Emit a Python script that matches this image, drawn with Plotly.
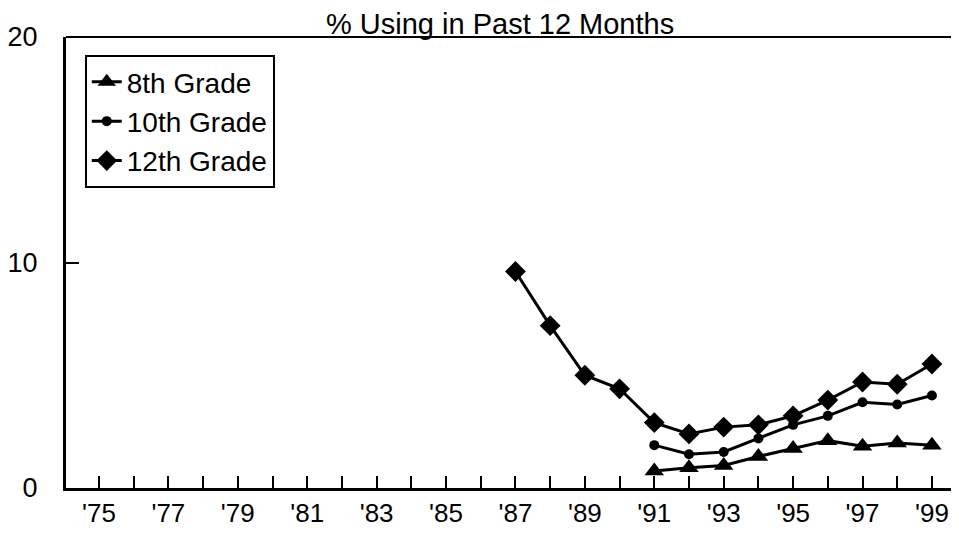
import plotly.graph_objects as go

# values (% using in past 12 months)
years_12 = [1987, 1988, 1989, 1990, 1991, 1992, 1993, 1994, 1995, 1996, 1997, 1998, 1999]
grade_12 = [9.6, 7.2, 5.0, 4.4, 2.9, 2.4, 2.7, 2.8, 3.2, 3.9, 4.7, 4.6, 5.5]

years_8_10 = [1991, 1992, 1993, 1994, 1995, 1996, 1997, 1998, 1999]
grade_10 = [1.9, 1.5, 1.6, 2.2, 2.8, 3.2, 3.8, 3.7, 4.1]
grade_8 = [0.75, 0.9, 1.0, 1.4, 1.75, 2.1, 1.85, 2.0, 1.9]

tick_years = [1975, 1977, 1979, 1981, 1983, 1985, 1987, 1989, 1991, 1993, 1995, 1997, 1999]
tick_labels = ["'75", "'77", "'79", "'81", "'83", "'85", "'87", "'89", "'91", "'93", "'95", "'97", "'99"]

FONT = "Liberation Sans, Arial, Helvetica, sans-serif"

fig = go.Figure()

fig.add_trace(go.Scatter(
    x=years_8_10, y=grade_8,
    mode='lines+markers',
    name='8th Grade',
    legendgroup='g8',
    line=dict(color='black', width=3),
    marker=dict(symbol='triangle-up', size=17, color='black'),
))

fig.add_trace(go.Scatter(
    x=years_8_10, y=grade_10,
    mode='lines+markers',
    name='10th Grade',
    legendgroup='g10',
    line=dict(color='black', width=3),
    marker=dict(symbol='circle', size=10, color='black'),
))

fig.add_trace(go.Scatter(
    x=years_12, y=grade_12,
    mode='lines+markers',
    name='12th Grade',
    legendgroup='g12',
    line=dict(color='black', width=3),
    marker=dict(symbol='diamond', size=16, color='black'),
))

# top border of the plot frame
fig.add_shape(type='line', xref='paper', yref='paper', x0=0, x1=1, y0=1, y1=1,
              line=dict(color='black', width=2))

fig.add_annotation(
    text="% Using in Past 12 Months",
    xref='paper', yref='paper', x=0.486, y=1,
    xanchor='center', yanchor='bottom', yshift=-5,
    showarrow=False,
    font=dict(family=FONT, size=29, color='black'),
)

# the page body adds an 8px margin, so the figure is 8px smaller and shifted
fig.update_layout(
    width=951, height=532,
    paper_bgcolor='white',
    plot_bgcolor='white',
    font=dict(family=FONT, size=26, color='black'),
    margin=dict(l=55, r=0, t=29, b=52),
    showlegend=True,
    legend=dict(
        x=0.021, y=0.96, xanchor='left', yanchor='top',
        bgcolor='white', bordercolor='black', borderwidth=2,
        font=dict(family=FONT, size=28, color='black'),
        tracegroupgap=12,
        traceorder='normal',
    ),
)

fig.update_xaxes(
    range=[1974.05, 1999.78],
    tickvals=tick_years, ticktext=tick_labels,
    ticks='inside', ticklen=12, tickwidth=1.5, tickcolor='black',
    minor=dict(dtick=1, tick0=1975, ticks='inside', ticklen=12, tickwidth=1.5, tickcolor='black'),
    showline=True, linecolor='black', linewidth=3,
    showgrid=False, zeroline=False,
    ticklabelstandoff=0,
    tickfont=dict(size=26),
)

fig.update_yaxes(
    range=[0, 20],
    tickvals=[0, 10, 20],
    ticks='inside', ticklen=13, tickwidth=1.5, tickcolor='black',
    showline=True, linecolor='black', linewidth=3,
    showgrid=False, zeroline=False,
    ticklabelstandoff=20,
    tickfont=dict(size=27),
)

fig.write_html("out.html")
